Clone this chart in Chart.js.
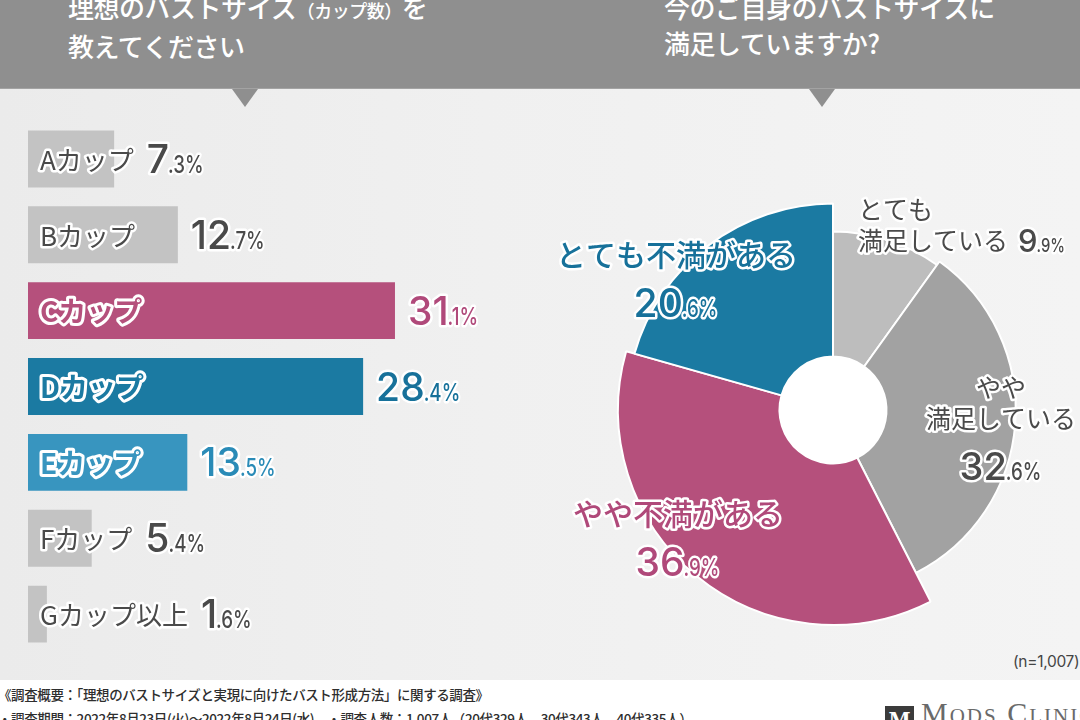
<!DOCTYPE html>
<html lang="ja">
<head>
<meta charset="UTF-8">
<title>バストサイズ調査</title>
<script src="https://cdn.jsdelivr.net/npm/chart.js@4.4.0/dist/chart.umd.min.js"></script>
<style>
  * { box-sizing: border-box; margin: 0; padding: 0; }
  body { width: 1080px; height: 720px; overflow: hidden; position: relative; background: #fff; font-family: "Noto Sans CJK JP", sans-serif; }
  .panel { position: absolute; left: 0; top: 0; width: 1080px; height: 680px; background: linear-gradient(90deg, #ebebeb 0%, #f0f0f0 45%, #f4f4f4 100%); }
  .banner { position: absolute; left: 0; top: 0; width: 1080px; height: 89px; background: #8f8f8f; border-bottom: 1px solid #a3a3a3; }
  .tri { position: absolute; top: 89px; width: 0; height: 0; border-left: 13px solid transparent; border-right: 13px solid transparent; border-top: 18px solid #8f8f8f; }
  .head { position: absolute; color: #fff; font-size: 26px; line-height: 36px; font-weight: 500; letter-spacing: -0.5px; white-space: nowrap; }
  .head small { font-size: 18px; }
  .box { position: absolute; }
  .n { position: absolute; left: 1013px; top: 652px; font-family: Inter, sans-serif; font-size: 15.5px; color: #444; letter-spacing: -0.3px; }
  .foot { position: absolute; left: -2px; font-size: 13.5px; color: #2e2e2e; font-weight: 500; white-space: nowrap; letter-spacing: -0.4px; }
  .logo { position: absolute; left: 885px; top: 706px; width: 29px; height: 29px; background: #3b3b3b; color: #fff; font: 700 20px "DejaVu Serif", serif; text-align: center; line-height: 28px; }
  .brand { position: absolute; left: 921px; top: 696px; font: 30px "Liberation Serif", serif; font-variant: small-caps; letter-spacing: 2px; color: #6a6a6a; white-space: nowrap; }
</style>
</head>
<body>
<div class="panel"></div>
<div class="banner"></div>
<div class="tri" style="left:232px"></div>
<div class="tri" style="left:809px"></div>
<div class="head" style="left:68px; top:-11px">理想のバストサイズ<small>（カップ数）</small>を<br>教えてください</div>
<div class="head" style="left:664px; top:-11px">今のご自身のバストサイズに<br>満足していますか?</div>

<div class="box" style="left:28px; top:121px; width:472px; height:531px;"><canvas id="barChart"></canvas></div>
<div class="box" style="left:540px; top:180px; width:540px; height:460px;"><canvas id="pieChart"></canvas></div>

<div class="n">(n=1,007)</div>
<div class="foot" style="top:684px">《調査概要：「理想のバストサイズと実現に向けたバスト形成方法」に関する調査》</div>
<div class="foot" style="top:708px">・調査期間：2022年8月23日(火)～2022年8月24日(水)　・調査人数：1,007人（20代329人、30代343人、40代335人）</div>
<div class="logo">M</div>
<div class="brand">Mods Clinic</div>

<script>
// 理想のカップ数
const cupLabels = ['Aカップ', 'Bカップ', 'Cカップ', 'Dカップ', 'Eカップ', 'Fカップ', 'Gカップ以上'];
const idealShare = [7.3, 12.7, 31.1, 28.4, 13.5, 5.4, 1.6];

// 満足度
const satisfactionLabels = ['とても\n満足している', 'やや\n満足している', 'やや不満がある', 'とても不満がある'];
const satisfactionShare = [9.9, 32.6, 36.9, 20.6];

// 見た目
const barColors = ['#c3c3c3', '#c3c3c3', '#b5507c', '#1b7aa2', '#3895bf', '#c3c3c3', '#c3c3c3'];
const barInk = ['#4a4a4a', '#4a4a4a', '#b5507c', '#1b7aa2', '#3895bf', '#4a4a4a', '#4a4a4a'];
const valueInk = ['#4a4a4a', '#4a4a4a', '#b0497a', '#17719a', '#2a8bb7', '#4a4a4a', '#4a4a4a'];
const pieColors = ['#bdbdbd', '#a2a2a2', '#b5507c', '#1b7aa2'];
const pieInk = ['#4a4a4a', '#4a4a4a', '#b0497a', '#17719a'];
const sliceReach = [0.83, 0.85, 1, 0.96];

const CJK = '"Noto Sans CJK JP", sans-serif';
const NUM = 'Inter, Roboto, sans-serif';

function strokeFill(ctx, parts, fill, width) {
  ctx.lineJoin = 'round';
  ctx.lineWidth = width;
  ctx.strokeStyle = '#fff';
  parts.forEach(p => {
    ctx.save(); ctx.translate(p.x, p.y); ctx.scale(p.sx || 1, 1);
    ctx.font = p.font; ctx.strokeText(p.text, 0, 0);
    ctx.restore();
  });
  ctx.fillStyle = fill;
  parts.forEach(p => {
    ctx.save(); ctx.translate(p.x, p.y); ctx.scale(p.sx || 1, 1);
    ctx.font = p.font; ctx.fillText(p.text, 0, 0);
    ctx.restore();
  });
}

// 「31.1%」の形で整数部を大きく、小数部を小さく詰めて描く
function drawValue(ctx, v, x, y, fill, size, align) {
  const [a, b] = v.toFixed(1).split('.');
  const big = `500 ${size}px ${NUM}`;
  const small = `500 ${Math.round(size * 0.62)}px ${NUM}`;
  const sx = 0.78;
  ctx.textAlign = 'left';
  ctx.textBaseline = 'alphabetic';
  ctx.font = big; const w1 = ctx.measureText(a).width;
  ctx.font = small; const w2 = ctx.measureText('.' + b + '%').width * sx;
  const x0 = align === 'center' ? x - (w1 + w2) / 2 : x;
  strokeFill(ctx, [
    { text: a, x: x0, y, font: big },
    { text: '.' + b + '%', x: x0 + w1 - 1, y, font: small, sx }
  ], fill, 5);
  return w1 + w2;
}

const barLabels = {
  id: 'barLabels',
  afterDatasetsDraw(chart) {
    const ctx = chart.ctx;
    const meta = chart.getDatasetMeta(0);
    ctx.save();
    meta.data.forEach((bar, i) => {
      const bold = i >= 2 && i <= 4;
      const font = bold ? `700 28px ${CJK}` : `400 26px ${CJK}`;
      ctx.font = font;
      ctx.textAlign = 'left';
      ctx.textBaseline = 'middle';
      const lx = bar.base + 12;
      const lw = ctx.measureText(cupLabels[i]).width;
      strokeFill(ctx, [{ text: cupLabels[i], x: lx, y: bar.y + 1, font }], barInk[i], bold ? 6 : 5);
      const vx = Math.max(bar.x, lx + lw) + 13;
      drawValue(ctx, idealShare[i], vx, bar.y + 14, valueInk[i], 39, 'left');
    });
    ctx.restore();
  }
};

new Chart(document.getElementById('barChart'), {
  type: 'bar',
  data: {
    labels: cupLabels,
    datasets: [{
      data: idealShare,
      backgroundColor: barColors,
      borderWidth: 0,
      categoryPercentage: 1,
      barPercentage: 0.75
    }]
  },
  options: {
    indexAxis: 'y',
    responsive: true,
    maintainAspectRatio: false,
    animation: false,
    events: [],
    layout: { padding: 0 },
    plugins: { legend: { display: false }, tooltip: { enabled: false } },
    scales: {
      x: { display: false, min: 0, max: 40 },
      y: { display: false }
    }
  },
  plugins: [barLabels]
});

// 扇ごとに半径を変える
const sliceRadius = {
  id: 'sliceRadius',
  afterDatasetUpdate(chart, args) {
    const r = args.meta.controller.outerRadius;
    args.meta.data.forEach((arc, i) => { arc.outerRadius = r * sliceReach[i]; });
  },
  beforeDatasetsDraw(chart) {
    const arc = chart.getDatasetMeta(0).data[0];
    const ctx = chart.ctx;
    ctx.save();
    ctx.fillStyle = '#fff';
    ctx.beginPath();
    ctx.arc(arc.x, arc.y, arc.innerRadius, 0, Math.PI * 2);
    ctx.fill();
    ctx.restore();
  }
};

// ラベル位置（中心からのずれ）
const pieSpots = [
  { dx: 25, dy: -170, align: 'left', size: 25, numSize: 31 },
  { dx: 168, dy: 8, align: 'center', size: 25, numSize: 38 },
  { dx: -155, dy: 104, align: 'center', size: 30, numSize: 39 },
  { dx: -157, dy: -155, align: 'center', size: 30, numSize: 39 }
];

const pieLabels = {
  id: 'pieLabels',
  afterDatasetsDraw(chart) {
    const ctx = chart.ctx;
    const c = chart.getDatasetMeta(0).data[0];
    ctx.save();
    satisfactionLabels.forEach((label, i) => {
      const s = pieSpots[i];
      const x = c.x + s.dx, y = c.y + s.dy;
      const lines = label.split('\n');
      const font = `${i >= 2 ? 500 : 400} ${s.size}px ${CJK}`;
      ctx.textBaseline = 'middle';
      ctx.textAlign = s.align;
      lines.forEach((ln, k) => {
        const ly = y - (lines.length - 1 - k) * 31;
        strokeFill(ctx, [{ text: ln, x, y: ly, font }], pieInk[i], 5);
      });
      if (s.align === 'left') {
        ctx.font = font;
        const w = ctx.measureText(lines[lines.length - 1]).width;
        drawValue(ctx, satisfactionShare[i], x + w + 10, y + 12, pieInk[i], s.numSize, 'left');
      } else {
        drawValue(ctx, satisfactionShare[i], x, y + 49 + 13, pieInk[i], s.numSize, 'center');
      }
    });
    ctx.restore();
  }
};

new Chart(document.getElementById('pieChart'), {
  type: 'doughnut',
  data: {
    labels: satisfactionLabels,
    datasets: [{
      data: satisfactionShare,
      backgroundColor: pieColors,
      borderColor: '#fff',
      borderWidth: 2
    }]
  },
  options: {
    responsive: true,
    maintainAspectRatio: false,
    animation: false,
    events: [],
    radius: 215,
    cutout: 57,
    layout: { padding: { left: 46, right: 0, top: 0, bottom: 0 } },
    plugins: { legend: { display: false }, tooltip: { enabled: false } }
  },
  plugins: [sliceRadius, pieLabels]
});
</script>
</body>
</html>
